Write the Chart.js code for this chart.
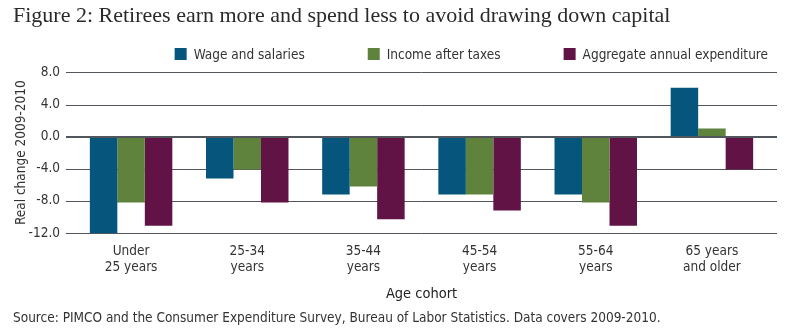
<!DOCTYPE html>
<html>
<head>
<meta charset="utf-8">
<script src="https://cdn.jsdelivr.net/npm/chart.js@4/dist/chart.umd.min.js"></script>
<style>
  html, body { margin: 0; padding: 0; background: #fff; }
  #wrap { width: 785px; height: 331px; }
</style>
</head>
<body>
<div id="wrap"><canvas id="cohortChart" width="785" height="331"></canvas></div>
<script>
// age cohorts on the x axis (two-line labels)
const cohorts = [['Under', '25 years'], ['25-34', 'years'], ['35-44', 'years'], ['45-54', 'years'], ['55-64', 'years'], ['65 years', 'and older']];
// real change 2009-2010 per cohort
const wageSalaries = [-12.0, -5.2, -7.2, -7.2, -7.2, 6.1];
const incomeAfterTaxes = [-8.2, -4.1, -6.2, -7.2, -8.2, 1.0];
const annualExpenditure = [-11.1, -8.2, -10.3, -9.2, -11.1, -4.1];
const yTicks = [8, 4, 0, -4, -8, -12];

const narrow = "'DejaVu Sans Condensed', 'Liberation Sans', sans-serif";
const textColor = '#333333';
const gridColor = '#50565c';

// horizontal rules that run a little past both sides of the plot
const gridRules = {
    id: 'gridRules',
    beforeDatasetsDraw(chart) {
        const { ctx, chartArea, scales } = chart;
        ctx.save();
        ctx.strokeStyle = gridColor;
        ctx.lineWidth = 1;
        yTicks.forEach(v => {
            if (v === 0) return;
            const y = Math.round(scales.y.getPixelForValue(v)) + 0.5;
            ctx.beginPath();
            ctx.moveTo(chartArea.left - 7, y);
            ctx.lineTo(chartArea.right + 7, y);
            ctx.stroke();
        });
        ctx.restore();
    },
    afterDatasetsDraw(chart) {
        const { ctx, chartArea, scales } = chart;
        const y = Math.round(scales.y.getPixelForValue(0));
        ctx.save();
        ctx.strokeStyle = gridColor;
        ctx.lineWidth = 2;
        ctx.beginPath();
        ctx.moveTo(chartArea.left - 7, y);
        ctx.lineTo(chartArea.right + 7, y);
        ctx.stroke();
        ctx.restore();
    }
};

// one-row legend, right aligned, with wide gaps between entries
const rowLegend = {
    id: 'rowLegend',
    afterDraw(chart) {
        const { ctx } = chart;
        const box = 12, gap = 7, spacing = 63, right = 768, y = 54;
        ctx.save();
        ctx.font = '13.5px ' + narrow;
        ctx.textBaseline = 'middle';
        const items = chart.data.datasets.map(ds => ({ text: ds.label, color: ds.backgroundColor, w: ctx.measureText(ds.label).width }));
        let total = items.reduce((s, it) => s + box + gap + it.w, 0) + spacing * (items.length - 1);
        let x = right - total;
        items.forEach(it => {
            ctx.fillStyle = it.color;
            ctx.fillRect(x, y - box / 2, box, box);
            ctx.fillStyle = textColor;
            ctx.fillText(it.text, x + box + gap, y + 1);
            x += box + gap + it.w + spacing;
        });
        ctx.restore();
    }
};

new Chart(document.getElementById('cohortChart'), {
    type: 'bar',
    data: {
        labels: cohorts,
        datasets: [
            { label: 'Wage and salaries', data: wageSalaries, backgroundColor: '#05557c' },
            { label: 'Income after taxes', data: incomeAfterTaxes, backgroundColor: '#5f823c' },
            { label: 'Aggregate annual expenditure', data: annualExpenditure, backgroundColor: '#621345' }
        ]
    },
    options: {
        responsive: false,
        animation: false,
        layout: { padding: { left: 13, right: 15, top: 2, bottom: 4 } },
        datasets: { bar: { categoryPercentage: 0.71, barPercentage: 1.0 } },
        plugins: {
            title: {
                display: true,
                text: 'Figure 2: Retirees earn more and spend less to avoid drawing down capital',
                align: 'start',
                color: '#2a2a2a',
                font: { family: "'Liberation Serif', 'DejaVu Serif', serif", size: 22, weight: 'normal' },
                padding: { top: 1, bottom: 43 }
            },
            subtitle: {
                display: true,
                position: 'bottom',
                align: 'start',
                text: 'Source: PIMCO and the Consumer Expenditure Survey, Bureau of Labor Statistics. Data covers 2009-2010.',
                color: textColor,
                font: { family: narrow, size: 13.5 },
                padding: { top: 8, bottom: 0 }
            },
            legend: { display: false },
            tooltip: { enabled: false }
        },
        scales: {
            x: {
                grid: { display: false },
                border: { display: false },
                ticks: { color: textColor, font: { family: narrow, size: 13.5 }, maxRotation: 0, padding: 2 },
                title: { display: true, text: 'Age cohort', color: '#222', font: { family: narrow, size: 14.5 }, padding: { top: 8, bottom: 0 } }
            },
            y: {
                min: -12,
                max: 8,
                afterBuildTicks(scale) { scale.ticks = yTicks.map(v => ({ value: v })); },
                afterFit(scale) { scale.width = 60; },
                grid: { display: false },
                border: { display: false },
                ticks: {
                    color: textColor,
                    font: { family: narrow, size: 13.5 },
                    padding: 5,
                    callback: v => v.toFixed(1)
                },
                title: { display: true, text: 'Real change 2009-2010', color: textColor, font: { family: narrow, size: 13.5 }, padding: 0 }
            }
        }
    },
    plugins: [gridRules, rowLegend]
});
</script>
</body>
</html>
